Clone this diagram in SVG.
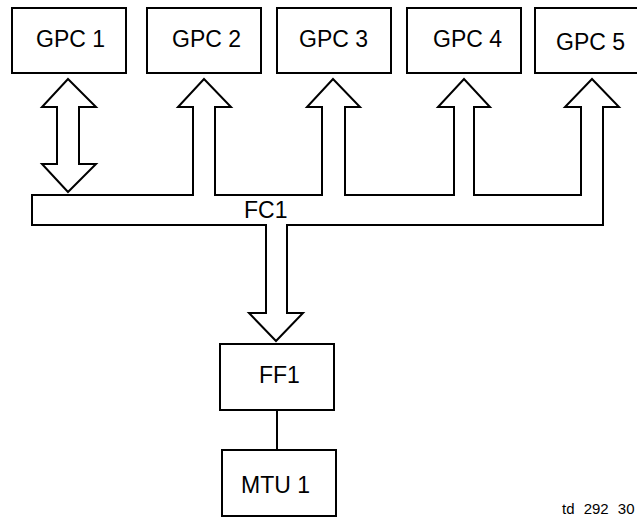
<svg xmlns="http://www.w3.org/2000/svg" width="637" height="517" viewBox="0 0 637 517">
<style>
.box{fill:#fff;stroke:#000;stroke-width:2}
.shape{fill:#fff;stroke:#000;stroke-width:2;stroke-linejoin:miter}
.lbl{font-family:"Liberation Sans",Arial,sans-serif;font-size:23px;fill:#000}
.small{font-family:"Liberation Sans",Arial,sans-serif;font-size:15px;fill:#000}
.line{stroke:#000;stroke-width:2;fill:none}
</style>
<rect width="637" height="517" fill="#fff"/>
<g id="GPC1"><rect class="box" x="12" y="8" width="114" height="65"/><text class="lbl" x="36" y="47">GPC 1</text></g>
<g id="GPC2"><rect class="box" x="147" y="8" width="114" height="65"/><text class="lbl" x="172" y="47">GPC 2</text></g>
<g id="GPC3"><rect class="box" x="277" y="8" width="114" height="65"/><text class="lbl" x="299" y="47">GPC 3</text></g>
<g id="GPC4"><rect class="box" x="407" y="8" width="114" height="65"/><text class="lbl" x="433" y="47">GPC 4</text></g>
<g id="GPC5"><rect class="box" x="535" y="8" width="110" height="65"/><text class="lbl" x="556" y="50">GPC 5</text></g>
<g id="FC1">
<path class="shape" d="M32,195 H193 V107 H178 L204,79 L231,107 H215 V195 H322 V107 H307 L333,79 L360,107 H345 V195 H454 V107 H438 L464,79 L490,107 H474 V195 H581 V107 H565 L592,79 L619,107 H603 V225 H287 V313 H303 L276,341 L249,313 H266 V225 H32 Z"/>
<text class="lbl" x="244" y="218">FC1</text>
</g>
<g id="FF1"><rect class="box" x="220" y="344" width="114" height="66"/><text class="lbl" x="259" y="383">FF1</text></g>
<g id="MTU1"><rect class="box" x="222" y="450" width="114" height="66"/><text class="lbl" x="241" y="493">MTU 1</text></g>
<g id="connectors">
<path class="shape" d="M68,79 L96,107 H79 V164 H96 L68,192 L42,164 H57 V107 H42 Z"/>
<line class="line" x1="277" y1="410" x2="277" y2="450"/>
</g>
<text class="small" x="562" y="514" word-spacing="5">td 292 30</text>
</svg>
